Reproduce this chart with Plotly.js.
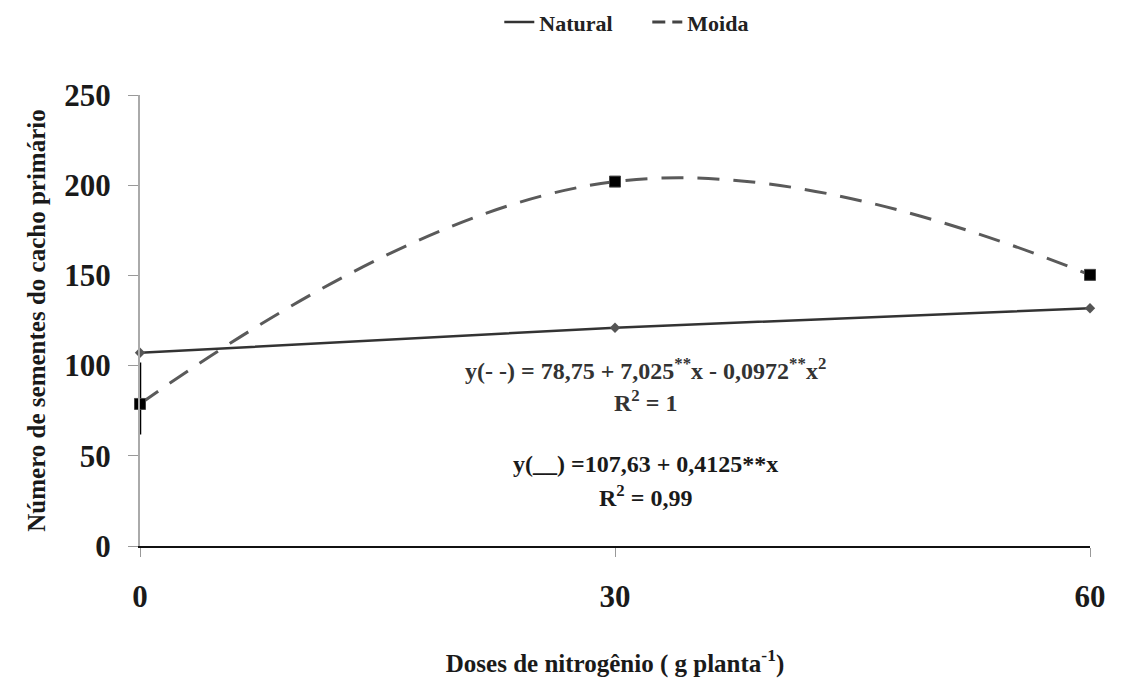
<!DOCTYPE html>
<html>
<head>
<meta charset="utf-8">
<script src="https://cdn.plot.ly/plotly-3.0.1.min.js"></script>
<style>html,body{margin:0;padding:0;background:#fff;}#chart{width:1122px;height:691px;}</style>
</head>
<body>
<div id="chart"></div>
<script>
// Data
const doses = [0, 30, 60];
const naturalValues = [107.1, 121.0, 131.8];
const moidaValues = [78.75, 202.0, 150.3];
const moidaErrPlus = [23, 0, 0];
const moidaErrMinus = [17, 0, 0];
const xTickVals = [0, 30, 60];
const xTickText = ['0', '30', '60'];
const yTickVals = [0, 50, 100, 150, 200, 250];
const yTickText = ['0', '50', '100', '150', '200', '250'];
const seriesNames = ['Natural', 'Moida'];

const serif = '"Liberation Serif", "Times New Roman", serif';
const naturalLine = {color: '#333333', width: 2.5};
const moidaLine = {color: '#5a5a5a', width: 3, dash: '22px,14px'};

const traces = [
  {
    x: doses, y: naturalValues, name: seriesNames[0], type: 'scatter', mode: 'lines+markers',
    line: naturalLine, showlegend: false,
    marker: {symbol: 'diamond', size: 8, color: '#555555'},
    cliponaxis: false
  },
  {
    x: doses, y: moidaValues, name: seriesNames[1], type: 'scatter', mode: 'lines+markers',
    line: Object.assign({}, moidaLine, {shape: 'spline', smoothing: 1.2}), showlegend: false,
    marker: {symbol: 'square', size: 11, color: '#000000', line: {color: '#444', width: 1}},
    error_y: {type: 'data', symmetric: false, array: moidaErrPlus, arrayminus: moidaErrMinus,
              color: '#000000', thickness: 2.5, width: 0},
    cliponaxis: false
  },
  // legend entries (lines only, as in the reference legend)
  {x: [null], y: [null], name: seriesNames[0], type: 'scatter', mode: 'lines', line: naturalLine, showlegend: true},
  {x: [null], y: [null], name: seriesNames[1], type: 'scatter', mode: 'lines', line: {color: '#444', width: 3, dash: '13px,7px'}, showlegend: true}
];

const layout = {
  width: 1122, height: 691,
  paper_bgcolor: '#ffffff', plot_bgcolor: '#ffffff',
  margin: {l: 140, r: 32, t: 95, b: 145},
  showlegend: true,
  legend: {orientation: 'h', x: 0.445, xanchor: 'left', xref: 'container', yref: 'container', y: 0.968, yanchor: 'middle',
           font: {family: serif, size: 22, color: '#222', weight: 'bold'}, bgcolor: 'rgba(0,0,0,0)', itemwidth: 30,
           entrywidth: 103, entrywidthmode: 'pixels'},
  xaxis: {
    range: [0, 60], tickvals: xTickVals, ticktext: xTickText,
    showgrid: false, zeroline: false, showline: true, linecolor: '#111', linewidth: 2,
    ticks: 'outside', ticklen: 9, tickcolor: '#999', tickwidth: 1,
    tickfont: {family: serif, size: 31, color: '#1a1a1a', weight: 'bold'},
    ticklabelstandoff: 13,
    title: {text: 'Doses de nitrogênio ( g planta<sup>-1</sup>)', font: {family: serif, size: 25, color: '#1a1a1a', weight: 'bold'}, standoff: 41}
  },
  yaxis: {
    range: [0, 250], tickvals: yTickVals, ticktext: yTickText,
    showgrid: false, zeroline: false, showline: true, linecolor: '#aaaaaa', linewidth: 2,
    ticks: 'outside', ticklen: 10, tickcolor: '#999', tickwidth: 1,
    tickfont: {family: serif, size: 31, color: '#1a1a1a', weight: 'bold'},
    ticklabelstandoff: 11,
    title: {text: 'Número de sementes do cacho primário', font: {family: serif, size: 25, color: '#1a1a1a', weight: 'bold'}, standoff: 12}
  },
  annotations: [
    {xref: 'paper', yref: 'paper', x: 0.532, y: 0.392, xanchor: 'center', yanchor: 'middle', showarrow: false,
     text: 'y(- -) = 78,75 + 7,025<sup>**</sup>x - 0,0972<sup>**</sup>x<sup>2</sup>',
     font: {family: serif, size: 24, color: '#333', weight: 'bold'}},
    {xref: 'paper', yref: 'paper', x: 0.532, y: 0.321, xanchor: 'center', yanchor: 'middle', showarrow: false,
     text: 'R<sup>2</sup> = 1',
     font: {family: serif, size: 24, color: '#333', weight: 'bold'}},
    {xref: 'paper', yref: 'paper', x: 0.532, y: 0.182, xanchor: 'center', yanchor: 'middle', showarrow: false,
     text: 'y(__) =107,63 + 0,4125**x',
     font: {family: serif, size: 24, color: '#1a1a1a', weight: 'bold'}},
    {xref: 'paper', yref: 'paper', x: 0.532, y: 0.111, xanchor: 'center', yanchor: 'middle', showarrow: false,
     text: 'R<sup>2</sup> = 0,99',
     font: {family: serif, size: 24, color: '#1a1a1a', weight: 'bold'}}
  ]
};

Plotly.newPlot('chart', traces, layout, {displayModeBar: false, staticPlot: true});
</script>
</body>
</html>
